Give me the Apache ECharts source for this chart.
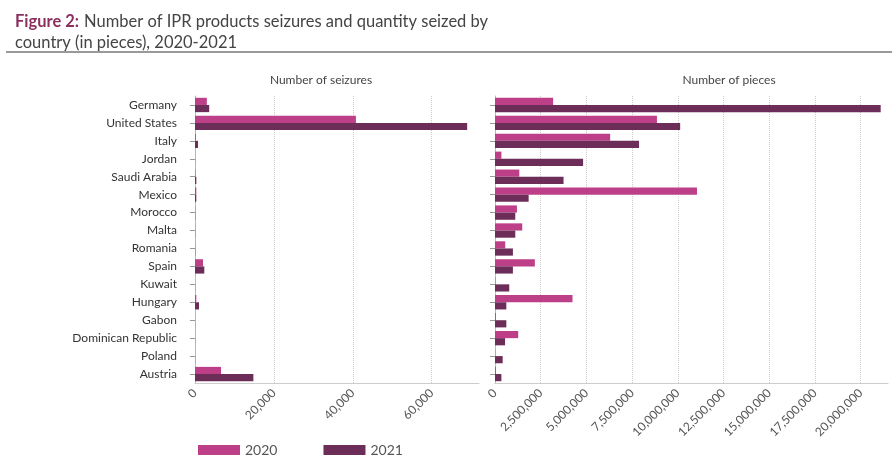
<!DOCTYPE html>
<html>
<head>
<meta charset="utf-8">
<script src="https://cdn.jsdelivr.net/npm/echarts@6/dist/echarts.min.js"></script>
<style>
  html, body { margin: 0; padding: 0; background: #fff; }
  #chart { width: 892px; height: 460px; }
</style>
</head>
<body>
<div id="chart"></div>
<script>
var countries = ['Germany', 'United States', 'Italy', 'Jordan', 'Saudi Arabia', 'Mexico', 'Morocco', 'Malta',
  'Romania', 'Spain', 'Kuwait', 'Hungary', 'Gabon', 'Dominican Republic', 'Poland', 'Austria'];

// number of seizures
var seizures2020 = [3000, 40800, 200, 10, 100, 330, 50, 30, 40, 2030, 0, 330, 0, 10, 10, 6600];
var seizures2021 = [3600, 69000, 760, 20, 330, 330, 60, 40, 60, 2360, 30, 1010, 20, 20, 30, 14800];

// number of pieces
var pieces2020 = [3180000, 8860000, 6300000, 350000, 1330000, 11050000, 1200000, 1490000,
  560000, 2180000, 20000, 4240000, 50000, 1270000, 10000, 50000];
var pieces2021 = [21100000, 10130000, 7880000, 4820000, 3750000, 1840000, 1110000, 1110000,
  980000, 980000, 780000, 620000, 620000, 550000, 420000, 350000];

var c2020 = '#bd3f87';
var c2021 = '#6c2d58';

var chart = echarts.init(document.getElementById('chart'));

function numFmt(v) {
  return v.toLocaleString('en-US');
}

var catAxis = function (idx, showLabels) {
  return {
    type: 'category',
    gridIndex: idx,
    data: countries,
    inverse: true,
    axisLine: { lineStyle: { color: '#bbb' } },
    axisTick: { show: true, alignWithLabel: true, length: 5, lineStyle: { color: '#999' } },
    axisLabel: { show: showLabels, color: '#333', fontSize: 12, margin: 18, fontFamily: 'Lato' }
  };
};

var valAxis = function (idx, max, interval) {
  return {
    type: 'value',
    gridIndex: idx,
    min: 0,
    max: max,
    interval: interval,
    axisLine: { show: true, lineStyle: { color: '#ccc' } },
    axisTick: { show: false },
    axisLabel: {
      rotate: 45, color: '#555', fontSize: 12, fontFamily: 'Lato', margin: 8,
      showMaxLabel: false,
      formatter: function (v) { return v % interval === 0 ? numFmt(v) : ''; }
    },
    splitLine: { show: true, showMaxLine: false, lineStyle: { color: '#ccc', type: 'dotted' } }
  };
};

var option = {
  animation: false,
  title: [
    {
      left: 10, top: 6,
      text: '{a|Figure 2:} {b|Number of IPR products seizures and quantity seized by}\n{b|country (in pieces), 2020-2021}',
      textStyle: {
        rich: {
          a: { fontSize: 16.5, fontWeight: 'bold', color: '#8a2f5e', fontFamily: 'Lato', lineHeight: 21 },
          b: { fontSize: 16.5, fontWeight: 'normal', color: '#444', fontFamily: 'Lato', lineHeight: 21 }
        }
      }
    },
    { text: 'Number of seizures', left: 316, top: 69, textAlign: 'center',
      textStyle: { fontSize: 12, fontWeight: 'normal', color: '#444', fontFamily: 'Lato' } },
    { text: 'Number of pieces', left: 724, top: 69, textAlign: 'center',
      textStyle: { fontSize: 12, fontWeight: 'normal', color: '#444', fontFamily: 'Lato' } }
  ],
  graphic: [
    { type: 'line', shape: { x1: 6, y1: 52, x2: 892, y2: 52 }, style: { stroke: '#999', lineWidth: 2 } }
  ],
  legend: {
    left: 193, top: 438,
    itemWidth: 42, itemHeight: 10, itemGap: 46,
    icon: 'rect',
    textStyle: { fontSize: 14, color: '#555', fontFamily: 'Lato' },
    data: ['2020', '2021']
  },
  grid: [
    { left: 195, width: 284, top: 96, height: 287 },
    { left: 495, width: 393, top: 96, height: 287 }
  ],
  yAxis: [catAxis(0, true), catAxis(1, false)],
  xAxis: [valAxis(0, 72000, 20000), valAxis(1, 21500000, 2500000)],
  series: [
    { name: '2020', type: 'bar', xAxisIndex: 0, yAxisIndex: 0, data: seizures2020,
      itemStyle: { color: c2020 }, barGap: '0%', barCategoryGap: '20%' },
    { name: '2021', type: 'bar', xAxisIndex: 0, yAxisIndex: 0, data: seizures2021,
      itemStyle: { color: c2021 }, barGap: '0%', barCategoryGap: '20%' },
    { name: '2020', type: 'bar', xAxisIndex: 1, yAxisIndex: 1, data: pieces2020,
      itemStyle: { color: c2020 }, barGap: '0%', barCategoryGap: '20%' },
    { name: '2021', type: 'bar', xAxisIndex: 1, yAxisIndex: 1, data: pieces2021,
      itemStyle: { color: c2021 }, barGap: '0%', barCategoryGap: '20%' }
  ]
};

chart.setOption(option);
</script>
</body>
</html>
